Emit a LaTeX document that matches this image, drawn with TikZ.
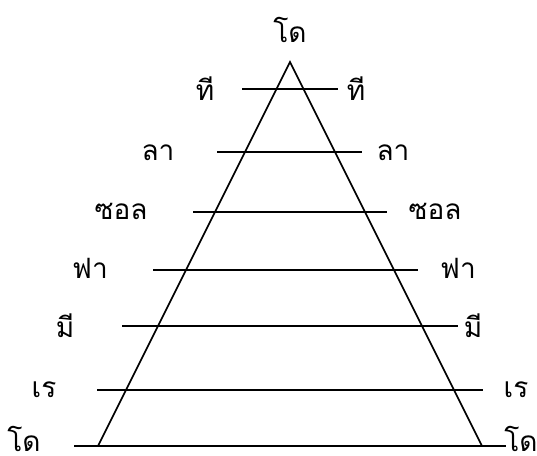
\documentclass[tikz,border=0pt]{standalone}
\usepackage{fontspec}
\newfontfamily\thaifont[Script=Thai]{Loma}
\usetikzlibrary{positioning}

\begin{document}
\begin{tikzpicture}[
    x=1pt, y=-1pt,
    % --- Stile ---
    noteLabel/.style={font=\thaifont\fontsize{28}{28}\selectfont, inner sep=0pt, anchor=base},
    scaleLine/.style={line width=1.6pt, draw=black},
    pyramid/.style={line width=1.6pt, draw=black, line join=miter}
]
    \useasboundingbox (0,0) rectangle (537,455);

    % ===========================
    % 1. DREIECK
    % ===========================
    \coordinate (apex) at (290, 62);
    \coordinate (baseL) at (98, 446);
    \coordinate (baseR) at (482, 446);
    \draw[pyramid] (baseL) -- (apex) -- (baseR);

    % ===========================
    % 2. TONLINIEN
    % ===========================
    \coordinate (tiL)  at (242, 89);   \coordinate (tiR)  at (338, 89);
    \coordinate (laL)  at (217, 152);  \coordinate (laR)  at (362, 152);
    \coordinate (solL) at (193, 212);  \coordinate (solR) at (387, 212);
    \coordinate (faL)  at (153, 270);  \coordinate (faR)  at (418, 270);
    \coordinate (miL)  at (122, 326);  \coordinate (miR)  at (458, 326);
    \coordinate (reL)  at (97, 390);   \coordinate (reR)  at (483, 390);
    \coordinate (doL)  at (74, 446);   \coordinate (doR)  at (506, 446);

    \draw[scaleLine] (tiL) -- (tiR);
    \draw[scaleLine] (laL) -- (laR);
    \draw[scaleLine] (solL) -- (solR);
    \draw[scaleLine] (faL) -- (faR);
    \draw[scaleLine] (miL) -- (miR);
    \draw[scaleLine] (reL) -- (reR);
    \draw[scaleLine] (doL) -- (doR);

    % ===========================
    % 3. BESCHRIFTUNGEN
    % ===========================
    \node[noteLabel] (doTop)  at (290, 42)  {โด};
    \node[noteLabel] (tiLab)  at (205, 100) {ที};
    \node[noteLabel] (tiRab)  at (356, 100) {ที};
    \node[noteLabel] (laLab)  at (158, 160) {ลา};
    \node[noteLabel] (laRab)  at (393, 160) {ลา};
    \node[noteLabel] (solLab) at (121, 219) {ซอล};
    \node[noteLabel] (solRab) at (435, 219) {ซอล};
    \node[noteLabel] (faLab)  at (90, 278)  {ฟา};
    \node[noteLabel] (faRab)  at (458, 278) {ฟา};
    \node[noteLabel] (miLab)  at (65, 337)  {มี};
    \node[noteLabel] (miRab)  at (473, 337) {มี};
    \node[noteLabel] (reLab)  at (44, 397)  {เร};
    \node[noteLabel] (reRab)  at (516, 397) {เร};
    \node[noteLabel, text depth=0pt] (doLab)  at (24, 451)  {โด};
    \node[noteLabel, text depth=0pt] (doRab)  at (521, 451) {โด};

\end{tikzpicture}
\end{document}
